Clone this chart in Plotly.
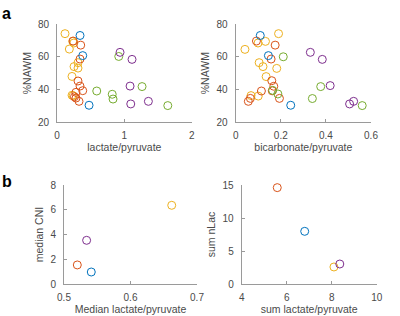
import plotly.graph_objects as go

C_BLUE = "#0072BD"
C_ORANGE = "#D95319"
C_YELLOW = "#EDB120"
C_PURPLE = "#7E2F8E"
C_GREEN = "#77AC30"

# Panel a, left: lactate/pyruvate vs %NAWM
a1_blue_x = [0.342, 0.382, 0.476]
a1_blue_y = [73.0, 60.7, 30.4]
a1_orange_x = [0.24, 0.352, 0.342, 0.312, 0.342, 0.382, 0.282, 0.282, 0.26, 0.327]
a1_orange_y = [69.6, 67.1, 58.6, 45.2, 42.1, 39.3, 38.3, 34.8, 35.6, 32.8]
a1_yellow_x = [0.119, 0.233, 0.25, 0.183, 0.312, 0.253, 0.312, 0.223, 0.223, 0.24]
a1_yellow_y = [74.1, 69.4, 68.4, 64.7, 56.4, 54.0, 53.1, 48.0, 36.5, 36.2]
a1_green_x = [0.917, 0.59, 0.82, 0.832, 1.263, 1.645]
a1_green_y = [60.2, 39.1, 37.1, 34.2, 41.8, 30.2]
a1_purple_x = [0.936, 1.114, 1.085, 1.095, 1.357]
a1_purple_y = [62.7, 58.4, 42.1, 31.2, 32.8]

# Panel a, right: bicarbonate/pyruvate vs %NAWM
a2_blue_x = [0.109, 0.145, 0.244]
a2_blue_y = [73.0, 60.7, 30.4]
a2_orange_x = [0.092, 0.175, 0.157, 0.16, 0.169, 0.162, 0.114, 0.194, 0.065, 0.056]
a2_orange_y = [69.6, 67.1, 58.6, 45.4, 42.0, 39.2, 39.1, 34.6, 34.6, 32.8]
a2_yellow_x = [0.19, 0.132, 0.099, 0.041, 0.104, 0.121, 0.182, 0.135, 0.068, 0.1]
a2_yellow_y = [74.1, 69.4, 68.4, 64.5, 56.4, 54.0, 52.9, 47.9, 36.3, 36.0]
a2_green_x = [0.211, 0.164, 0.187, 0.377, 0.34, 0.561]
a2_green_y = [60.0, 39.5, 37.3, 41.8, 34.5, 30.2]
a2_purple_x = [0.331, 0.384, 0.419, 0.505, 0.523]
a2_purple_y = [62.7, 58.4, 42.4, 31.2, 32.8]

# Panel b, left: median lactate/pyruvate vs median CNI
b1_x = [0.541, 0.52, 0.662, 0.534]
b1_y = [0.97, 1.54, 6.36, 3.53]
# Panel b, right: sum lactate/pyruvate vs sum nLac
b2_x = [6.8, 5.58, 8.1, 8.36]
b2_y = [7.98, 14.6, 2.58, 3.03]
b_colors = [C_BLUE, C_ORANGE, C_YELLOW, C_PURPLE]

fig = go.Figure()

def add(x, y, color, xa, ya):
    fig.add_trace(go.Scatter(
        x=x, y=y, mode="markers", xaxis=xa, yaxis=ya, showlegend=False,
        marker=dict(symbol="circle-open", size=8, color=color, line=dict(width=1, color=color)),
        cliponaxis=False,
    ))

for xs, ys, c in [(a1_yellow_x, a1_yellow_y, C_YELLOW), (a1_orange_x, a1_orange_y, C_ORANGE),
                  (a1_blue_x, a1_blue_y, C_BLUE), (a1_green_x, a1_green_y, C_GREEN),
                  (a1_purple_x, a1_purple_y, C_PURPLE)]:
    add(xs, ys, c, "x", "y")
for xs, ys, c in [(a2_yellow_x, a2_yellow_y, C_YELLOW), (a2_orange_x, a2_orange_y, C_ORANGE),
                  (a2_blue_x, a2_blue_y, C_BLUE), (a2_green_x, a2_green_y, C_GREEN),
                  (a2_purple_x, a2_purple_y, C_PURPLE)]:
    add(xs, ys, c, "x2", "y2")
for i in range(4):
    add([b1_x[i]], [b1_y[i]], b_colors[i], "x3", "y3")
    add([b2_x[i]], [b2_y[i]], b_colors[i], "x4", "y4")

FONT = "Liberation Sans, Arial, Helvetica, sans-serif"
TXT = "#4a4a4a"
LINE = "#9a9a9a"

def ax(domain, rng, dtick, title, anchor, standoff, lstand):
    return dict(
        domain=domain, range=rng, dtick=dtick, tick0=rng[0], anchor=anchor,
        showgrid=False, zeroline=False, showline=True, linecolor=LINE, linewidth=1,
        ticks="inside", ticklen=3, tickcolor=LINE, mirror=False, automargin=False,
        ticklabelstandoff=lstand,
        tickfont=dict(family=FONT, size=10, color=TXT),
        title=dict(text=title, font=dict(family=FONT, size=10.5, color=TXT), standoff=standoff),
        fixedrange=True,
    )

ya_dom = [1 - 122.3 / 316, 1 - 24 / 316]
yb_dom = [1 - 284 / 316, 1 - 185 / 316]

fig.update_layout(
    template="none",
    width=400, height=316,
    margin=dict(l=0, r=0, t=0, b=0),
    paper_bgcolor="white", plot_bgcolor="white",
    hovermode=False,
    xaxis=ax([57 / 400, 191.7 / 400], [0, 2], 1, "lactate/pyruvate", "y", 2, 4),
    yaxis=ax(ya_dom, [20, 80], 20, "%NAWM", "x", 4, 5),
    xaxis2=ax([235.7 / 400, 371 / 400], [0, 0.6], 0.2, "bicarbonate/pyruvate", "y2", 2, 4),
    yaxis2=ax(ya_dom, [20, 80], 20, "%NAWM", "x2", 4, 5),
    xaxis3=ax([64 / 400, 197 / 400], [0.5, 0.7], 0.1, "Median lactate/pyruvate", "y3", 2, 4),
    yaxis3=ax(yb_dom, [0, 8], 2, "median CNI", "x3", 4, 5),
    xaxis4=ax([241.7 / 400, 376.7 / 400], [4, 10], 2, "sum lactate/pyruvate", "y4", 2, 4),
    yaxis4=ax(yb_dom, [0, 15], 5, "sum nLac", "x4", 4, 5),
    annotations=[
        dict(text="<b>a</b>", x=0.0, y=1 - 3 / 316, xref="paper", yref="paper", xanchor="left", yanchor="top",
             showarrow=False, font=dict(family=FONT, size=16, color="black")),
        dict(text="<b>b</b>", x=0.0, y=1 - 171 / 316, xref="paper", yref="paper", xanchor="left", yanchor="top",
             showarrow=False, font=dict(family=FONT, size=16, color="black")),
    ],
)

fig.write_html(
    "out.html",
    config={"displayModeBar": False, "staticPlot": True},
    post_script="document.body.style.margin='0';document.body.style.overflow='hidden';",
)
